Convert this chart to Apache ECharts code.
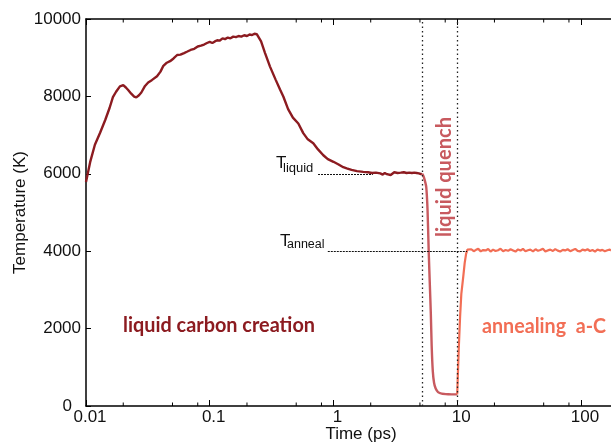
<!DOCTYPE html>
<html>
<head>
<meta charset="utf-8">
<script src="https://cdn.jsdelivr.net/npm/echarts@6/dist/echarts.min.js"></script>
<style>
html, body { margin: 0; padding: 0; background: #fff; }
#chart { width: 611px; height: 444px; }
</style>
</head>
<body>
<div id="chart"></div>
<script>
// Stage 1: liquid carbon creation (time in ps, temperature in K)
const creationTime = [0.01, 0.0108, 0.0118, 0.013, 0.0143, 0.0155, 0.0165, 0.0175, 0.0188, 0.02, 0.021, 0.022, 0.0232, 0.0245, 0.0255, 0.0268, 0.028, 0.03, 0.0318, 0.034, 0.0375, 0.04, 0.042, 0.045, 0.0478, 0.051, 0.0545, 0.058, 0.062, 0.066, 0.07, 0.075, 0.08, 0.085, 0.09, 0.095, 0.1, 0.105, 0.11, 0.115, 0.12, 0.127, 0.133, 0.14, 0.147, 0.155, 0.163, 0.171, 0.18, 0.19, 0.2, 0.21, 0.22, 0.23, 0.24, 0.245, 0.26, 0.28, 0.307, 0.34, 0.37, 0.394, 0.43, 0.47, 0.52, 0.57, 0.62, 0.687, 0.75, 0.828, 0.9, 1.0, 1.1, 1.2, 1.28, 1.4, 1.55, 1.74, 1.9, 2.05, 2.2, 2.39, 2.5, 2.6, 2.7, 2.8, 2.9, 3.0, 3.1, 3.2, 3.3, 3.4, 3.5, 3.6, 3.7, 3.8, 3.9, 4.0, 4.1, 4.2, 4.3, 4.4, 4.5, 4.6, 4.7, 4.8, 4.9, 5.0, 5.1, 5.2];
const creationTemp = [5790, 6300, 6750, 7060, 7390, 7700, 7980, 8120, 8260, 8290, 8230, 8160, 8070, 7995, 7975, 8030, 8100, 8270, 8360, 8420, 8520, 8640, 8780, 8870, 8910, 8980, 9070, 9080, 9120, 9160, 9200, 9230, 9290, 9310, 9340, 9380, 9410, 9380, 9420, 9450, 9440, 9500, 9480, 9520, 9500, 9545, 9530, 9560, 9545, 9580, 9560, 9600, 9585, 9620, 9610, 9655, 9420, 9120, 8770, 8440, 8180, 7990, 7670, 7450, 7300, 7050, 6890, 6790, 6630, 6480, 6380, 6310, 6240, 6170, 6140, 6100, 6070, 6050, 6040, 6020, 6030, 6010, 5980, 6020, 5990, 6030, 5970, 6010, 6040, 5990, 6020, 5980, 6030, 6000, 6040, 5990, 6020, 6000, 6030, 5990, 6020, 6010, 6030, 5990, 6020, 6000, 6010, 6000, 5990, 6000];

// Stage 2: liquid quench
const quenchTime = [5.2, 5.3, 5.45, 5.62, 5.76, 5.88, 6.0, 6.12, 6.22, 6.35, 6.5, 6.7, 7.0, 7.5, 8.5, 9.5, 10.0];
const quenchTemp = [6000, 5960, 5850, 5660, 5060, 4030, 3200, 2400, 1550, 900, 600, 450, 360, 320, 305, 300, 300];

// Stage 3: annealing amorphous carbon
const annealTime = [10.0, 10.1, 10.3, 10.55, 10.8, 11.2, 11.5, 11.8, 12.1, 12.5, 13, 13.6, 14.2, 14.8, 15.5, 16.2, 17, 17.8, 18.6, 19.5, 20.4, 21.4, 22.4, 23.5, 24.6, 25.8, 27, 28.3, 29.6, 31, 32.5, 34, 35.6, 37.3, 39, 41, 43, 45, 47, 49.3, 51.6, 54, 56.6, 59.3, 62, 65, 68, 71.3, 74.6, 78, 82, 86, 90, 94, 98.5, 103, 108, 113, 118.5, 124, 130, 136, 142.5, 149, 156, 163.5, 171, 175];
const annealTemp = [300, 700, 1500, 2300, 2900, 3350, 3700, 3930, 4040, 4015, 4050, 4000, 4035, 4060, 3995, 4030, 4020, 4055, 3990, 4040, 4005, 4025, 4065, 4000, 4030, 4010, 4050, 4020, 3990, 4045, 4015, 4060, 4000, 4025, 4040, 3995, 4050, 4010, 4030, 4065, 3995, 4020, 4040, 4005, 4055, 4015, 3990, 4035, 4020, 4050, 4000, 4030, 4060, 4010, 3995, 4040, 4020, 4050, 4005, 4030, 3990, 4045, 4015, 4035, 4000, 4025, 4040, 4015];

// Quench window boundaries (ps) and reference temperatures (K)
const quenchWindow = [5.2, 10];
const tLiquid = 6000;
const tLiquidSpan = [0.75, 2.08];
const tAnneal = 4000;
const tAnnealSpan = [0.9, 12];

// Axis ticks
const xRange = [0.01, 175];
const xMinorTicks = [0.02, 0.05, 0.08, 0.2, 0.5, 0.8, 2, 5, 8, 20, 50, 80];
const yRange = [0, 10000];
const yStep = 2000;

const cCreation = '#8c1b20';
const cQuench = '#c85a5f';
const cAnneal = '#f26e55';
const axisFont = 'Liberation Sans';
const labelFont = 'Lato';

function zip(a, b) {
  const n = Math.min(a.length, b.length);
  const out = [];
  for (let i = 0; i < n; i++) out.push([a[i], b[i]]);
  return out;
}

// horizontal scale factor so a bold label spans a given width
function fitScale(text, font, width) {
  const ctx = document.createElement('canvas').getContext('2d');
  ctx.font = font;
  return width / ctx.measureText(text).width;
}

const isDecade = v => Math.abs(Math.log10(v) - Math.round(Math.log10(v))) < 1e-6;

const chart = echarts.init(document.getElementById('chart'), null, { renderer: 'canvas' });

const boldSize = 20;
const creationLabel = 'liquid carbon creation';
const annealLabel = 'annealing  a-C';
const quenchLabel = 'liquid quench';
const bFont = 'bold ' + boldSize + 'px ' + labelFont;

const option = {
  animation: false,
  backgroundColor: '#fff',
  grid: { left: 86, right: 0, top: 19, bottom: 38, containLabel: false, outerBoundsMode: 'none' },
  xAxis: [
    {
      type: 'log', logBase: 10, min: xRange[0], max: xRange[1],
      position: 'bottom',
      name: 'Time (ps)', nameLocation: 'middle', nameGap: 20, nameMoveOverlap: false,
      nameTextStyle: { fontFamily: axisFont, fontSize: 17, color: '#111', padding: [0, 0, 0, 25] },
      axisLine: { lineStyle: { color: '#000', width: 1.5 } },
      axisTick: { inside: true, length: 6, lineStyle: { color: '#000', width: 1 } },
      axisLabel: {
        fontFamily: axisFont, fontSize: 17, color: '#111', margin: 3,
        padding: [0, 0, 0, 8],
        formatter: v => isDecade(v) ? String(v) : ''
      },
      splitLine: { show: false }
    },
    {
      type: 'log', logBase: 10, min: xRange[0], max: xRange[1],
      position: 'top',
      axisLine: { lineStyle: { color: '#000', width: 1.5 } },
      axisTick: { inside: true, length: 6, lineStyle: { color: '#000', width: 1 } },
      axisLabel: { show: false },
      splitLine: { show: false }
    }
  ],
  yAxis: {
    type: 'value', min: yRange[0], max: yRange[1], interval: yStep,
    name: 'Temperature (K)', nameLocation: 'middle', nameGap: 57, nameMoveOverlap: false,
    nameTextStyle: { fontFamily: axisFont, fontSize: 17, color: '#111' },
    axisLine: { show: true, lineStyle: { color: '#000', width: 1.5 } },
    axisTick: { show: true, inside: true, length: 5, lineStyle: { color: '#000', width: 1 } },
    axisLabel: {
      fontFamily: axisFont, fontSize: 17, color: '#111', margin: 5,
      formatter: v => v === 0 ? '{z|0}' : String(v),
      rich: { z: { fontFamily: axisFont, fontSize: 17, color: '#111', padding: [0, 9, 0, 0] } }
    },
    splitLine: { show: false }
  },
  series: [
    {
      name: 'guides', type: 'line', data: [], silent: true, z: 1,
      markLine: {
        silent: true, symbol: ['none', 'none'], animation: false,
        label: { show: false },
        lineStyle: { color: '#222', type: [1.5, 3], width: 1.3 },
        data: quenchWindow.map(t => ({ xAxis: t }))
      }
    },
    {
      name: 'reference', type: 'line', data: [], silent: true, z: 1,
      markLine: {
        silent: true, symbol: ['none', 'none'], animation: false,
        label: { show: false },
        lineStyle: { color: '#111', type: [2, 1], width: 1 },
        data: [
          [{ coord: [tLiquidSpan[0], tLiquid] }, { coord: [tLiquidSpan[1], tLiquid] }],
          [{ coord: [tAnnealSpan[0], tAnneal] }, { coord: [tAnnealSpan[1], tAnneal] }]
        ]
      }
    },
    {
      name: 'creation', type: 'line', data: zip(creationTime, creationTemp),
      showSymbol: false, z: 3,
      lineStyle: { color: cCreation, width: 2.4 }, itemStyle: { color: cCreation }
    },
    {
      name: 'quench', type: 'line', data: zip(quenchTime, quenchTemp),
      showSymbol: false, z: 3, smooth: 0.2,
      lineStyle: { color: cQuench, width: 2.4 }, itemStyle: { color: cQuench }
    },
    {
      name: 'anneal', type: 'line', data: zip(annealTime, annealTemp),
      showSymbol: false, z: 3,
      lineStyle: { color: cAnneal, width: 2.2 }, itemStyle: { color: cAnneal }
    },
    {
      name: 'minorTicks', type: 'custom', silent: true, z: 4,
      data: xMinorTicks.map(v => [v, 0]),
      renderItem: function (params, api) {
        const p = api.coord([api.value(0), 0]);
        const cs = params.coordSys;
        const yb = cs.y + cs.height, yt = cs.y;
        return {
          type: 'group',
          children: [
            { type: 'line', shape: { x1: p[0], y1: yb, x2: p[0], y2: yb - 3.5 }, style: { stroke: '#000', lineWidth: 1 } },
            { type: 'line', shape: { x1: p[0], y1: yt, x2: p[0], y2: yt + 3.5 }, style: { stroke: '#000', lineWidth: 1 } }
          ]
        };
      }
    }
  ],
  graphic: [
    { type: 'text', x: 219, y: 326, scaleX: fitScale(creationLabel, bFont, 192), silent: true,
      style: { text: creationLabel, font: bFont, fill: cCreation, align: 'center', verticalAlign: 'middle', textAlign: 'center', textVerticalAlign: 'middle' } },
    { type: 'text', x: 544, y: 327, scaleX: fitScale(annealLabel, bFont, 124), silent: true,
      style: { text: annealLabel, font: bFont, fill: cAnneal, align: 'center', verticalAlign: 'middle', textAlign: 'center', textVerticalAlign: 'middle' } },
    { type: 'text', x: 445, y: 177, rotation: Math.PI / 2, scaleX: fitScale(quenchLabel, bFont, 120), silent: true,
      style: { text: quenchLabel, font: bFont, fill: cQuench, align: 'center', verticalAlign: 'middle', textAlign: 'center', textVerticalAlign: 'middle' } },
    { type: 'text', x: 276, y: 163, silent: true,
      style: { text: 'T', font: '17px ' + axisFont, fill: '#111', align: 'left', verticalAlign: 'middle', textAlign: 'left', textVerticalAlign: 'middle' } },
    { type: 'text', x: 283, y: 168, silent: true,
      style: { text: 'liquid', font: '13px ' + axisFont, fill: '#111', align: 'left', verticalAlign: 'middle', textAlign: 'left', textVerticalAlign: 'middle' } },
    { type: 'text', x: 280, y: 241, silent: true,
      style: { text: 'T', font: '17px ' + axisFont, fill: '#111', align: 'left', verticalAlign: 'middle', textAlign: 'left', textVerticalAlign: 'middle' } },
    { type: 'text', x: 287, y: 245, silent: true,
      style: { text: 'anneal', font: '12.5px ' + axisFont, fill: '#111', align: 'left', verticalAlign: 'middle', textAlign: 'left', textVerticalAlign: 'middle' } }
  ]
};

chart.setOption(option);
</script>
</body>
</html>
